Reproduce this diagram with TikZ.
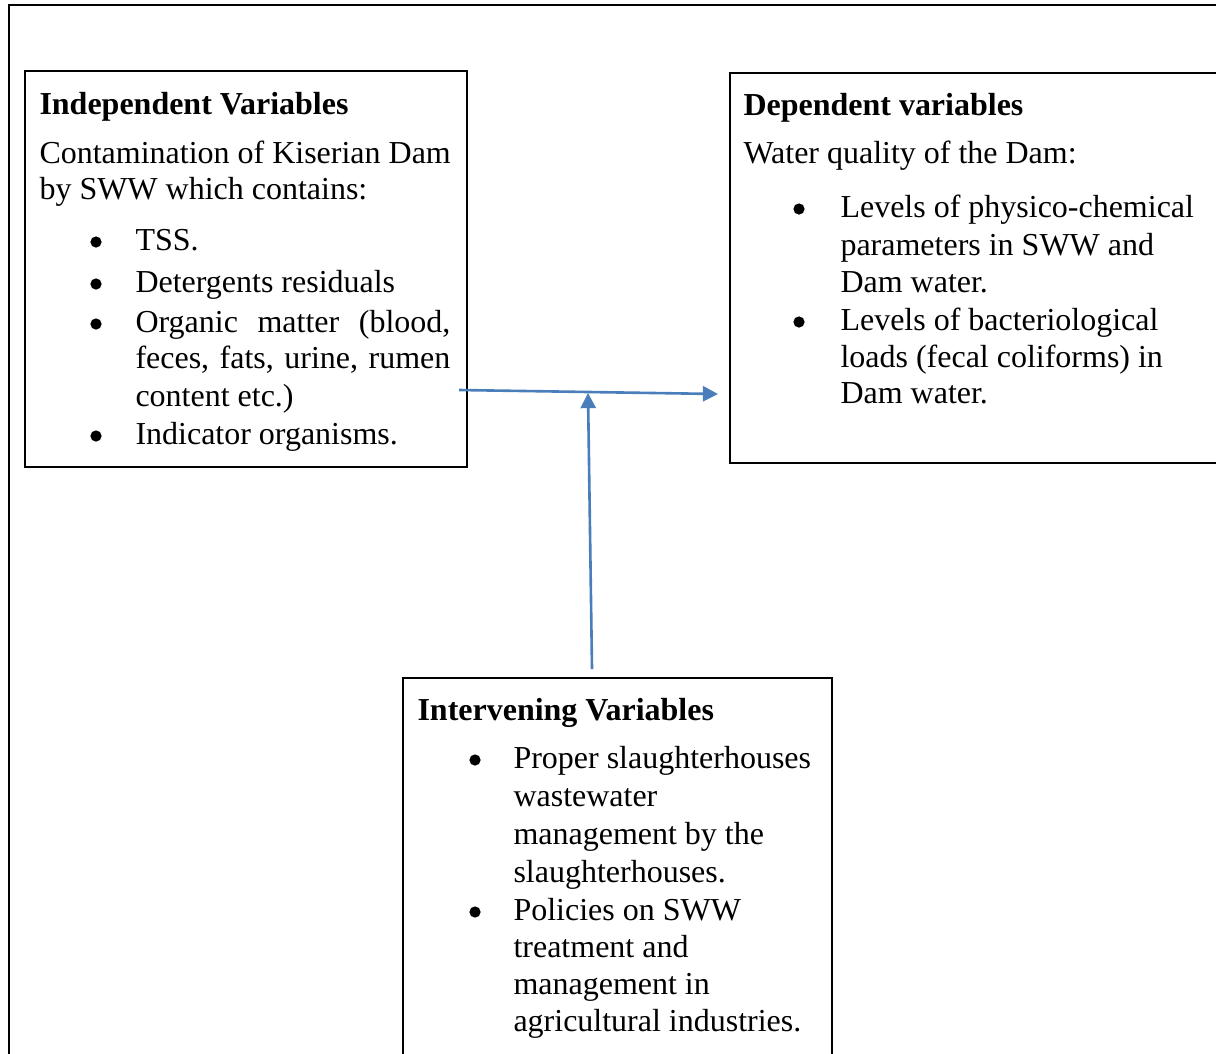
\documentclass[tikz,border=0pt]{standalone}
\usepackage{fontspec}
\setmainfont{Liberation Serif}
\usetikzlibrary{arrows.meta}
\definecolor{linkblue}{RGB}{74,126,187}

\begin{document}
\begin{tikzpicture}[x=0.383pt, y=-0.383pt, >={Triangle[length=5.8pt,width=5.8pt]},
  every node/.style={font=\fontsize{12.25}{14}\selectfont, inner sep=0pt},
  hd/.style={anchor=base west, font=\fontsize{12.25}{14}\selectfont\bfseries},
  ln/.style={anchor=base west},
  bul/.style={circle, fill, minimum size=4.3pt},
  box/.style={draw, line width=0.8pt, anchor=north west},
  link/.style={->, draw=linkblue, line width=1pt}]
  \useasboundingbox (0,0) rectangle (1216,1053);
  \clip (0,0) rectangle (1216,1053);
  % outer frame (runs off the page right and bottom)
  \draw[line width=0.8pt] (9,5) rectangle (1240,1080);

  % boxes
  \node[box, minimum width=169.3pt, minimum height=151.7pt] (indep) at (24,70) {};
  \node[box, minimum width=200pt, minimum height=149.4pt] (dep) at (729,72) {};
  \node[box, minimum width=164.3pt, minimum height=160pt] (inter) at (402,677) {};

  % independent variables
  \node[hd] (indhd) at (39,114) {Independent Variables};
  \foreach \yy/\txt [count=\i] in {163/{Contamination of Kiserian Dam}, 199/{by SWW which contains:},
      250/{TSS.}, 292/{Detergents residuals}, 332/{\makebox[120.6pt][s]{Organic matter (blood,}},
      368/{\makebox[120.6pt][s]{feces, fats, urine, rumen}}, 406/{content etc.)}, 444/{Indicator organisms.}}
    \node[ln] (indtxt\i) at ({\i<3 ? 39 : 135},\yy) {\txt};
  \foreach \yy [count=\i] in {250,292,332,444}
    \node[bul] (indbul\i) at (96,\yy-8) {};

  % dependent variables
  \node[hd] (dephd) at (743,115) {Dependent variables};
  \node[ln] (deptxt0) at (743,163) {Water quality of the Dam:};
  \foreach \yy/\txt [count=\i] in {217/{Levels of physico-chemical}, 255/{parameters in SWW and},
      292/{Dam water.}, 330/{Levels of bacteriological}, 367/{loads (fecal coliforms) in}, 403/{Dam water.}}
    \node[ln] (deptxt\i) at (840,\yy) {\txt};
  \foreach \yy [count=\i] in {217,330}
    \node[bul] (depbul\i) at (799,\yy-8) {};

  % intervening variables
  \node[hd] (inthd) at (417,720) {Intervening Variables};
  \foreach \yy/\txt [count=\i] in {768/{Proper slaughterhouses}, 806/{wastewater}, 844/{management by the},
      882/{slaughterhouses.}, 920/{Policies on SWW}, 957/{treatment and}, 994/{management in},
      1031/{agricultural industries.}}
    \node[ln] (inttxt\i) at (513,\yy) {\txt};
  \foreach \yy [count=\i] in {768,920}
    \node[bul] (intbul\i) at (475,\yy-8) {};

  % connectors
  \coordinate (hfrom) at (459,390);
  \coordinate (hto) at (718,394);
  \coordinate (vfrom) at (592,669);
  \coordinate (vto) at (588,393);
  \draw[link] (hfrom) -- (hto);
  \draw[link] (vfrom) -- (vto);
\end{tikzpicture}
\end{document}
